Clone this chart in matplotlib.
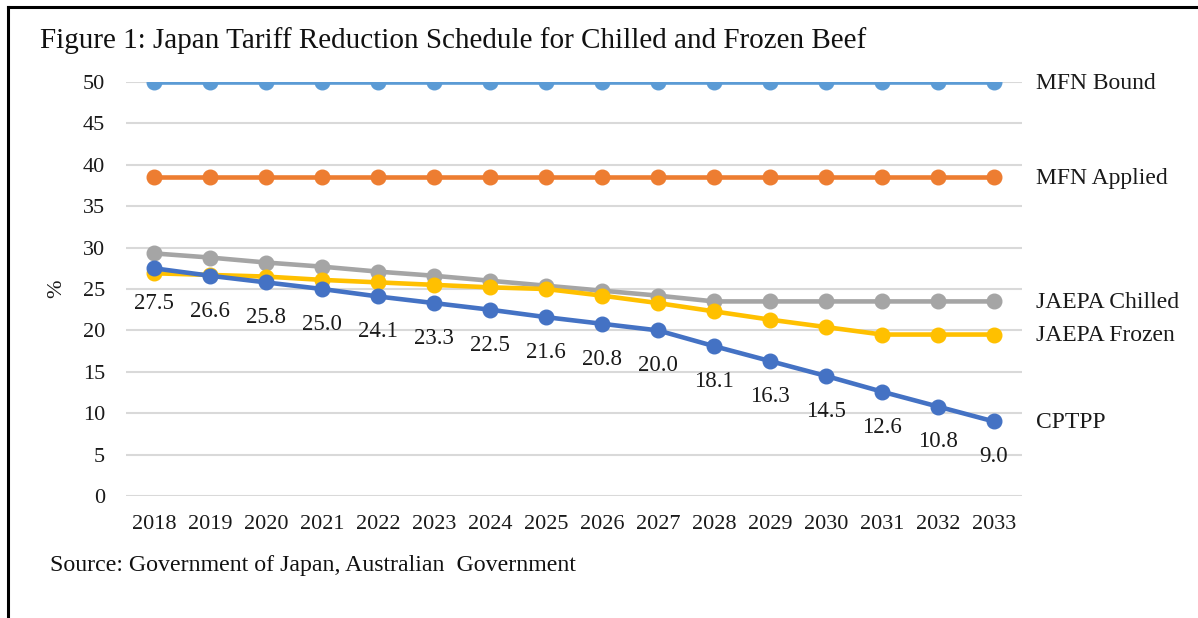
import matplotlib
matplotlib.use("Agg")
import matplotlib.pyplot as plt
from matplotlib.lines import Line2D

years = [str(y) for y in range(2018, 2034)]
mfn_bound = [50.0] * 16
mfn_applied = [38.5] * 16
jaepa_chilled = [29.3, 28.8, 28.2, 27.7, 27.1, 26.6, 26.0, 25.4, 24.8, 24.2, 23.5, 23.5, 23.5, 23.5, 23.5, 23.5]
jaepa_frozen = [26.9, 26.7, 26.5, 26.1, 25.8, 25.5, 25.2, 25.0, 24.2, 23.3, 22.3, 21.3, 20.4, 19.5, 19.5, 19.5]
cptpp = [27.5, 26.6, 25.8, 25.0, 24.1, 23.3, 22.5, 21.6, 20.8, 20.0, 18.1, 16.3, 14.5, 12.6, 10.8, 9.0]

series = [
    ("MFN Bound", mfn_bound, "#5B9BD5"),
    ("MFN Applied", mfn_applied, "#ED7D31"),
    ("JAEPA Chilled", jaepa_chilled, "#A5A5A5"),
    ("JAEPA Frozen", jaepa_frozen, "#FFC000"),
    ("CPTPP", cptpp, "#4472C4"),
]

plt.rcParams['font.family'] = ['Liberation Serif', 'DejaVu Serif']

W, H = 1198, 618
fig = plt.figure(figsize=(W / 100, H / 100), dpi=100)
ax = fig.add_axes([126 / W, (H - 496) / H, (1022 - 126) / W, (496 - 82) / H])

x = list(range(len(years)))
for name, vals, col in series:
    ax.plot(x, vals, color=col, lw=3.3, marker='o', ms=10.5, zorder=3, solid_capstyle='round')
    ax.annotate(name, xy=(x[-1], vals[-1]), xytext=(30, -1), textcoords='offset points',
                ha='left', va='center', fontsize=17, color='#1a1a1a', annotation_clip=False)

for xi, v in zip(x, cptpp):
    ax.annotate(f"{v:.1f}", xy=(xi, v), xytext=(0, -25.5), textcoords='offset points',
                ha='center', va='center', fontsize=16.5, color='#1a1a1a')

ax.set_xlim(-0.5, len(years) - 0.5)
ax.set_ylim(0, 50)
ax.set_yticks(range(0, 51, 5))
ax.set_xticks(x)
ax.set_xticklabels(years)
ax.grid(axis='y', color='#D9D9D9', lw=1.5, zorder=0)
ax.set_axisbelow(True)
for s in ax.spines.values():
    s.set_visible(False)
ax.tick_params(axis='both', length=0, labelsize=16, colors='#1a1a1a')
ax.tick_params(axis='y', pad=15)
ax.tick_params(axis='x', pad=14)
ax.set_ylabel('%', fontsize=16, color='#1a1a1a', labelpad=12)

fig.text(40 / W, 1 - 48 / H, "Figure 1: Japan Tariff Reduction Schedule for Chilled and Frozen Beef",
         fontsize=21, ha='left', va='baseline', color='#111111')
fig.text(50 / W, 1 - 571 / H, "Source: Government of Japan, Australian  Government",
         fontsize=17.2, ha='left', va='baseline', color='#111111')

fig.add_artist(Line2D([8 / W, 8 / W], [0, 1 - 7 / H], transform=fig.transFigure, color='black', lw=2.2))
fig.add_artist(Line2D([8 / W, 1], [1 - 7 / H, 1 - 7 / H], transform=fig.transFigure, color='black', lw=2.2))

fig.savefig("out.png", dpi=100)
